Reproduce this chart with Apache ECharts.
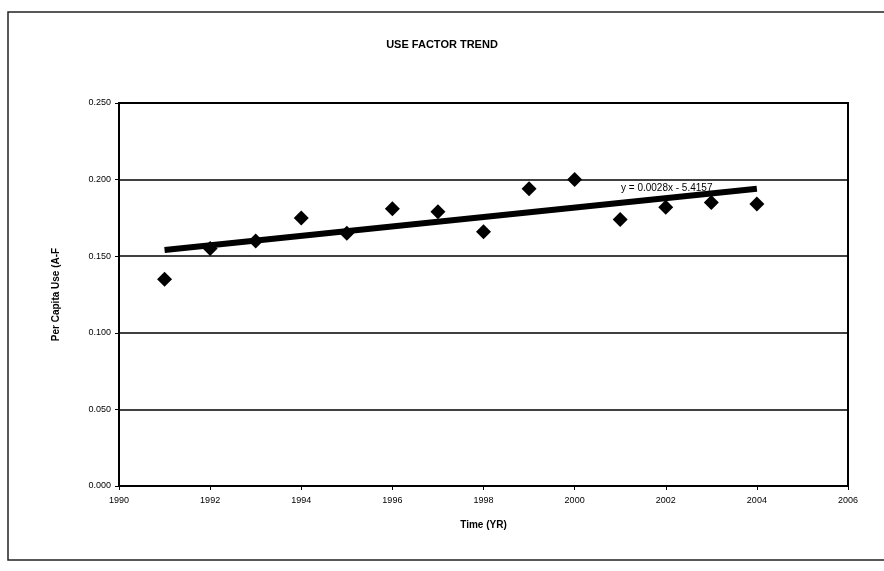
<!DOCTYPE html>
<html>
<head>
<meta charset="utf-8">
<script src="https://cdn.jsdelivr.net/npm/echarts@6/dist/echarts.min.js"></script>
<style>
  html, body { margin: 0; padding: 0; background: #fff; }
  #chart { width: 884px; height: 571px; }
</style>
</head>
<body>
<div id="chart"></div>
<script>
// measured values
const years = [1991, 1992, 1993, 1994, 1995, 1996, 1997, 1998, 1999, 2000, 2001, 2002, 2003, 2004];
const useFactor = [0.135, 0.155, 0.160, 0.175, 0.165, 0.181, 0.179, 0.166, 0.194, 0.200, 0.174, 0.182, 0.185, 0.184];
// linear trend end points
const trendYears = [1991, 2004];
const trendValues = [0.154, 0.194];
const trendLabel = 'y = 0.0028x - 5.4157';

const font = 'Liberation Sans, Arial, sans-serif';

const myechart = echarts.init(document.getElementById('chart'));
const option = {
  backgroundColor: '#fff',
  animation: false,
  title: {
    text: 'USE FACTOR TREND',
    left: 'center',
    top: 34,
    textStyle: { fontFamily: font, fontSize: 11, fontWeight: 'bold', color: '#000' },
  },
  graphic: [
    {
      // outer chart border
      type: 'rect',
      shape: { x: 8, y: 12, width: 900, height: 548 },
      style: { fill: 'none', stroke: '#222', lineWidth: 1.5 },
      silent: true,
    },
    {
      type: 'text',
      left: 621,
      top: 183,
      z: 10,
      style: { text: trendLabel, fontFamily: font, fontSize: 10, fill: '#000' },
    },
  ],
  grid: {
    left: 119,
    right: 36,
    top: 103,
    bottom: 85,
    show: true,
    borderColor: '#000',
    borderWidth: 2,
  },
  xAxis: {
    type: 'value',
    min: 1990,
    max: 2006,
    interval: 2,
    name: 'Time (YR)',
    nameLocation: 'middle',
    nameGap: 34,
    nameTextStyle: { fontFamily: font, fontSize: 10, fontWeight: 'bold', color: '#000' },
    axisLine: { lineStyle: { color: '#000', width: 2 } },
    axisTick: { show: true, length: 4, lineStyle: { color: '#000' } },
    axisLabel: {
      fontFamily: font,
      fontSize: 9,
      color: '#000',
      margin: 10,
      formatter: (v) => String(v),
    },
    splitLine: { show: false },
  },
  yAxis: {
    type: 'value',
    min: 0,
    max: 0.25,
    interval: 0.05,
    name: 'Per Capita Use (A-F',
    nameLocation: 'middle',
    nameGap: 58,
    nameTextStyle: { fontFamily: font, fontSize: 10, fontWeight: 'bold', color: '#000' },
    axisLine: { show: true, lineStyle: { color: '#000', width: 2 } },
    axisTick: { show: true, length: 4, lineStyle: { color: '#000' } },
    axisLabel: {
      fontFamily: font,
      fontSize: 9,
      color: '#000',
      margin: 8,
      formatter: (v) => v.toFixed(3),
    },
    splitLine: { show: true, lineStyle: { color: '#000', width: 1.5 } },
  },
  series: [
    {
      name: 'Use Factor',
      type: 'scatter',
      symbol: 'diamond',
      symbolSize: 15,
      itemStyle: { color: '#000', opacity: 1 },
      data: years.map((y, i) => [y, useFactor[i]]),
      z: 3,
    },
    {
      name: 'Linear',
      type: 'line',
      showSymbol: false,
      lineStyle: { color: '#000', width: 6 },
      data: trendYears.map((y, i) => [y, trendValues[i]]),
      z: 4,
    },
  ],
};
myechart.setOption(option);
</script>
</body>
</html>
